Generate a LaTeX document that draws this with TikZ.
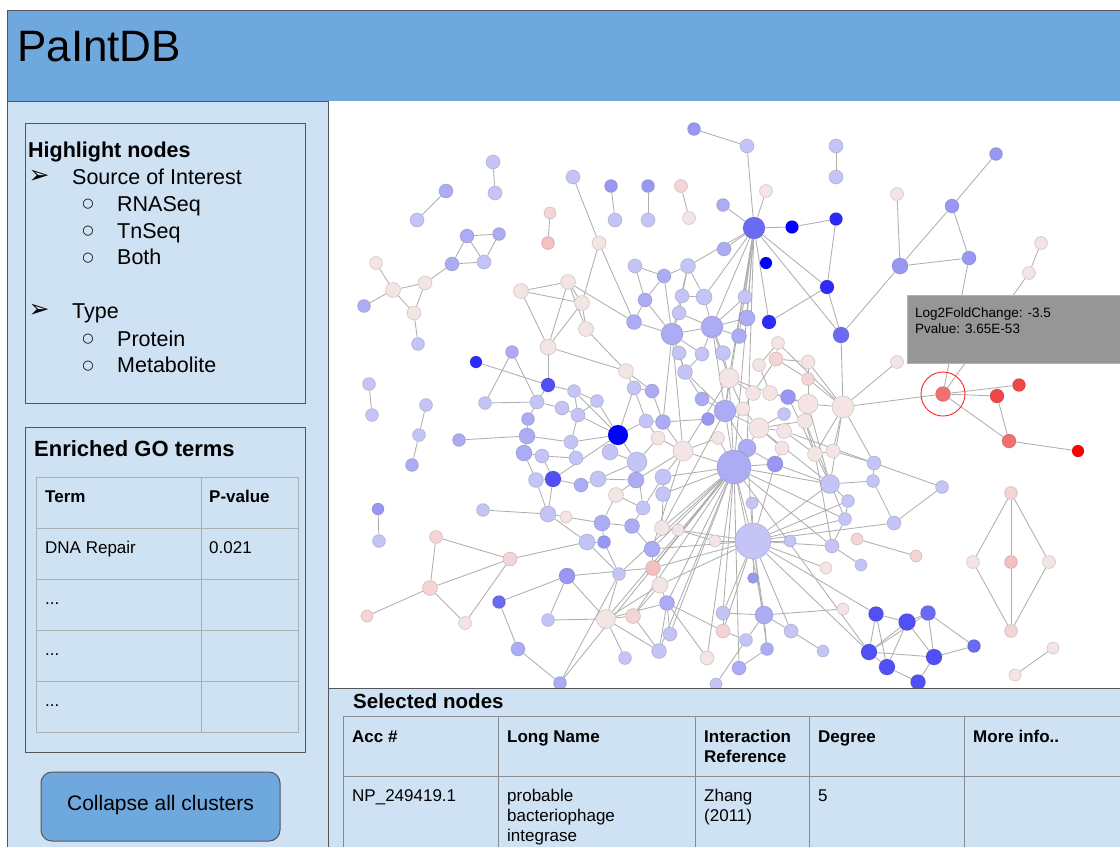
\documentclass[tikz,border=0pt]{standalone}
\usepackage{fontspec}
\setmainfont{Liberation Sans}
\newfontfamily\symfont{DejaVu Sans}
\pgfdeclarelayer{bglayer}
\pgfdeclarelayer{edgelayer}
\pgfdeclarelayer{toplayer}
\pgfsetlayers{bglayer,edgelayer,main,toplayer}
\definecolor{hdr}{RGB}{111,168,220}
\definecolor{panel}{RGB}{207,226,243}
\definecolor{dark}{RGB}{85,85,90}
\definecolor{tipc}{RGB}{150,150,150}
\definecolor{gridc}{RGB}{170,175,180}
\definecolor{edgec}{RGB}{175,175,175}
\definecolor{pw}{RGB}{245,228,228}
\definecolor{pk}{RGB}{244,212,212}
\definecolor{pk2}{RGB}{244,192,192}
\definecolor{lb}{RGB}{196,196,246}
\definecolor{mb}{RGB}{172,172,244}
\definecolor{mb2}{RGB}{152,152,244}
\definecolor{b1}{RGB}{106,106,242}
\definecolor{b2}{RGB}{80,80,246}
\definecolor{b3}{RGB}{44,44,248}
\definecolor{bb}{RGB}{0,0,255}
\definecolor{r1}{RGB}{240,112,112}
\definecolor{r2}{RGB}{240,70,70}
\definecolor{rr}{RGB}{255,0,0}
\begin{document}
\begin{tikzpicture}[x=1pt,y=-1pt,
  nd/.style={circle, inner sep=0pt, draw=black, draw opacity=0.13, line width=0.8pt},
  edge/.style={draw=edgec, line width=0.85pt},
  txt/.style={anchor=base west, inner sep=0pt},
  big/.style={font=\fontsize{21.5}{26}\selectfont},
  tab/.style={font=\fontsize{17}{20}\selectfont},
  tabb/.style={font=\bfseries\fontsize{17}{20}\selectfont},
  bul/.style={anchor=center, inner sep=0pt, font=\symfont\fontsize{13}{15}\selectfont},
  arr/.style={anchor=center, inner sep=0pt, font=\symfont\fontsize{25}{28}\selectfont}]
\useasboundingbox (0,0) rectangle (1120,847);
\begin{pgfonlayer}{bglayer}
\fill[white] (0,0) rectangle (1120,847);
\end{pgfonlayer}
% ---------- network nodes ----------
\foreach \nm/\px/\py/\dm/\cl in {
a1/694/129/13/mb2, a2/493/162/14/lb, a3/495/193/14/lb, a4/446/191/14/mb, a5/417/220/14/lb,
a6/573/177/14/lb, a7/599/243/14/pw, a8/611/186/13/mb2, a9/615/220/14/lb, a10/648/186/13/mb2,
a11/648/220/14/lb, a12/681/186/13/pk, a13/689/218/13/pw, a14/723/205/13/mb, a15/550/213/12/pk,
a16/548/243/13/pk2, a17/467/236/14/mb, a18/499/234/13/mb, a19/452/264/14/mb, a20/484/262/14/lb,
a21/425/283/14/pw, a22/393/290/15/pw, a23/376/263/13/pw, a24/364/306/13/mb, a25/414/313/14/pw,
a26/418/344/13/lb, a27/521/291/15/pw, a28/568/282/15/pw, a29/582/303/15/pw, a30/586/329/15/pw,
a31/548/347/16/pw, a32/626/371/15/pw, a33/634/322/15/mb, a34/476/362/12/b3, a35/548/385/14/b2,
a36/512/352/13/mb, a37/574/391/13/lb, a38/369/384/13/lb, a39/372/415/13/lb,
b1/747/146/14/lb, b2/836/146/14/lb, b3/836/177/14/lb, b4/766/191/13/pw, b6/754/228/22/b1,
b7/792/227/13/bb, b8/836/219/13/b3, b9/766/263/12/bb, b10/724/249/14/mb, b11/827/287/14/b3,
b12/769/322/14/b3, b13/841/335/16/b1, b14/897/194/13/pw, b15/900/266/16/mb2, b16/952/206/14/mb2,
b17/996/154/13/mb2, b18/969/258/14/mb2, b19/1041/243/13/pw, b20/1029/273/13/pw, b21/897/362/13/pw,
b22/635/266/14/lb, b23/664/276/14/mb, b24/688/266/15/lb, b25/645/300/14/mb, b26/682/296/14/lb,
b27/704/297/16/lb, b28/679/313/14/lb, b29/672/334/22/mb, b30/712/327/22/mb, b31/745/297/14/lb,
b32/747/318/16/mb, b33/739/336/15/mb, b34/723/353/15/lb, b35/702/354/14/lb, b36/679/353/14/lb,
b37/685/372/15/lb, b38/729/378/20/pw, b39/778/343/13/pw, b40/776/359/14/pk, b41/759/365/13/pw,
b42/808/362/14/pw, b43/808/379/13/pk, b44/788/397/15/mb2, b45/753/393/15/pw, b46/770/393/15/pw,
b47/808/404/20/pw, b48/843/407/22/pw, b49/805/421/15/pw, b50/784/414/13/lb, b51/743/409/14/pw,
b52/725/411/22/mb, b53/702/399/14/mb, b54/708/419/13/mb2, b55/759/428/20/pw, b56/784/431/15/pw,
b57/833/451/14/pw, b58/815/454/15/pw, b59/782/448/14/pw, b60/747/448/18/mb, b61/734/467/34/mb,
b62/775/464/16/mb2, b63/718/438/13/pw, b64/683/451/20/pw, b65/658/438/14/pw, b66/663/422/15/mb,
b67/646/421/14/lb, b68/634/388/14/lb, b69/652/391/14/mb, b70/618/435/20/bb, b71/610/452/16/lb,
b72/637/462/20/lb, b74/597/401/13/lb, b75/578/415/14/lb, b76/571/442/14/lb, b77/576/458/14/lb,
c1/426/405/13/lb, c2/419/435/13/lb, c3/412/465/13/mb, c4/459/440/13/mb, c5/485/403/13/lb,
c6/378/509/12/mb2, c7/379/541/13/lb, c8/483/510/13/lb, c9/436/537/13/pk, c10/510/559/14/pk,
c11/430/588/15/pk, c12/367/616/12/pk, c13/465/623/13/pw, c14/499/602/13/b1, c15/518/649/14/mb,
c16/560/683/13/mb, c17/567/576/16/mb2, c18/548/620/13/lb, c19/606/619/19/pw, c20/633/616/15/pk,
c21/670/634/14/lb, c22/659/651/15/lb, c23/625/658/13/lb, c24/707/658/14/pw, c25/537/402/14/lb,
c26/562/408/14/lb, c28/528/419/13/mb, c29/527/436/16/mb, c30/524/453/16/mb, c31/542/456/14/lb,
c33/553/479/16/b2, c34/536/480/15/lb, c35/581/485/14/mb, c36/598/479/16/lb, c38/636/480/16/mb,
c39/616/495/15/pw, c40/548/514/16/lb, c41/566/517/12/pw, c42/602/523/16/mb, c43/632/526/15/mb,
c44/587/542/16/lb, c45/604/542/13/mb2, c46/643/508/14/lb, c47/652/549/16/mb, c48/653/568/15/pk2,
c49/660/585/16/pw, c50/667/603/15/mb, c51/723/613/14/lb, c52/723/631/14/pk, c53/619/574/13/lb,
c55/663/477/16/lb, c56/663/494/15/lb, c57/662/528/15/pw, c58/678/530/12/pw, c59/715/541/12/pw,
d1/943/394/15/r1, d2/997/396/14/r2, d3/1019/385/13/r2, d4/1009/441/14/r1, d5/1078/451/12/rr,
d7/874/463/14/lb, d8/873/481/13/lb, d9/942/487/13/lb, d10/830/484/19/lb, d11/848/501/13/lb,
d12/845/519/13/lb, d13/894/523/14/lb, d14/857/539/12/pk, d15/916/556/12/pk, d16/832/546/14/lb,
d17/861/565/12/lb, d18/826/568/12/pw, d19/790/541/12/lb, d20/752/503/12/lb, d21/753/541/36/lb,
d22/753/578/11/mb2,
e1/1011/493/13/pk, e2/973/562/13/pw, e3/1011/562/13/pk2, e4/1049/562/13/pw, e5/1011/631/13/pk,
e6/1053/648/12/pw, e7/1015/675/12/pw,
f1/876/614/15/b2, f2/907/622/17/b2, f3/928/613/15/b1, f4/869/652/16/b2, f5/887/667/16/b2,
f6/934/657/16/b2, f7/974/646/13/b1, f8/918/682/15/b2,
g1/843/609/12/pw, g2/764/615/18/mb, g4/746/640/13/lb, g5/791/631/14/lb, g6/767/649/13/mb,
g7/823/651/12/lb, g8/739/668/14/mb, g9/716/684/12/lb}
  \node[nd, minimum size=\dm pt, fill=\cl] (\nm) at (\px,\py) {};
% ---------- network edges ----------
\begin{pgfonlayer}{edgelayer}
\foreach \p/\q in {
a2/a3, a4/a5, a6/a7, a8/a9, a10/a11, a12/a13, a15/a16, a17/a18, a17/a19, a17/a20, a18/a20, a19/a20,
a19/a21, a21/a22, a21/a25, a22/a23, a22/a24, a22/a25, a25/a26, a38/a39,
a7/a29, a7/a33, a27/a28, a27/a29, a27/a31, a28/a29, a28/a30, a28/a31, a28/a33, a29/a30, a29/a31,
a30/a32, a31/a32, a31/a35, a34/a35, a32/b68, a32/b69, a33/b29, a33/b25, a36/c5, a36/c25,
a1/b1, b1/b6, b4/b6, a14/b6, b10/b6, b6/b7, b7/b8, b8/b11, b6/b11, b11/b12, b6/b13, b11/b13,
b13/b15, b15/b14, b15/b16, b16/b17, b16/b18, b15/b18, b13/b48, b21/b48, b19/b20, b20/d1, b18/d1, b2/b3,
b6/b27, b6/b30, b6/b31, b6/b32, b6/b33, b6/b38, b6/b61, b6/b24, b6/b52, b6/b60, b12/b6,
b22/b23, b22/b25, b23/b24, b23/b25, b23/b29, b24/b26, b24/b27, b24/b29, b25/b29, b26/b27, b26/b28,
b27/b30, b28/b29, b28/b30, b29/b30, b29/b36, b29/b35, b29/b37, b29/b64, b29/b66, b30/b31, b30/b32,
b30/b33, b30/b34, b30/b35, b30/b52, b30/b38, b34/b38, b35/b37, b36/b37, b37/b52, b37/b53, b38/b52,
b38/b45, b38/b46, b38/b51, b38/b61, b38/b64, b39/b40, b39/b41, b40/b42, b40/b43, b40/b45, b41/b46,
b42/b47, b43/b47, b44/b46, b44/b47, b45/b51, b46/b47, b47/b48, b47/b49, b48/b57, b48/b43, b48/b39,
b48/b42, b48/b58, b48/d10, b48/d7, b49/b55, b50/b55, b51/b55, b52/b53, b52/b54, b52/b55, b52/b60,
b52/b61, b54/b66, b55/b56, b55/b59, b55/b60, b56/b58, b57/b58, b58/b49, b59/b62, b60/b61, b60/b62,
b61/b62, b61/b63, b61/b64, b63/b64, b64/b65, b64/b66, b65/b67, b66/b67, b67/b68, b68/b69, b69/b66,
b70/b68, b70/b71, b70/b72, b70/a37, b70/b74, b70/b76, b70/b67, b70/c33, b70/b75, b71/b72, b72/b65,
b72/c36, b72/c38, a37/b74, a37/b75, b74/b75, b75/b76, b76/b77, b77/c31, a35/a37, a35/c25, c25/c26,
c25/c28, c26/b75, c28/c29, c29/c30, c29/b76, c30/c31, c30/c34, c31/c33, c33/c34, c33/c35, c33/c40,
c34/c40, c35/c36, c36/c38, c38/c39, c39/c46, c39/c42, c40/c41, c40/c44, c41/c42, c42/c43, c42/c45,
c43/c46, c43/c47, c44/c45, c45/c53, c46/c55, c47/c48, c48/c49, c49/c50, c50/c19, c50/c52, c55/c56,
c56/c57, c57/c58, c58/c59, c57/b61, c55/b64, c59/d21, c55/b61, c56/b61, c47/b61, c38/b64, c46/b72,
c1/c2, c2/c3, c4/c29, c5/c25, c6/c7, c8/c40, c9/c10, c9/c11, c10/c11, c10/c13, c11/c12, c11/c13,
c10/c44, c14/c17, c14/c15, c15/c16, c17/c18, c17/c19, c17/c48, c18/c19, c19/c20, c19/c22, c19/c23,
c19/b61, c19/c49, c20/c49, c20/c22, c21/c50, c22/c50, c53/c19, c53/c44, c16/c53, c24/c50,
b61/d21, b61/c20, b61/c48, b61/c50, b61/g8, b61/c16, b61/c22, b61/g2, b61/f4, b61/d10, b61/d12,
b61/c53, b61/c21, b61/d16, b61/c24,
d21/c48, d21/c47, d21/d13, d21/f1, d21/f4, d21/g2, d21/g5, d21/c58, d21/d19, d21/d20, d21/d22,
d21/d16, d21/d10, d21/b62, d21/c52, d21/g6, d21/b60, d21/c49, d21/d11, d21/d12, d21/d18, d21/c51,
d7/d8, d7/d9, d8/d13, d9/d13, b56/d7, d10/d8, d10/d11, d11/d12, d12/d16, d14/d15, d16/d17,
e1/e2, e1/e3, e1/e4, e2/e5, e3/e5, e4/e5, e6/e7,
f1/f2, f1/f4, f1/f5, f2/f3, f2/f4, f2/f5, f2/f6, f3/f6, f3/f7, f4/f5, f4/f6, f5/f8, f6/f8, f6/f7, f3/f4,
g2/g1, g2/c51, g2/g4, g2/g5, g2/g6, g5/g7, g6/g8, c51/c52, c51/b61, g4/g9, c52/g4,
d1/d2, d1/d3, d1/d4, d2/d4, d4/d5, b48/d1,
b60/c48, b52/c57, b64/c47, b55/d10, b47/d10, b44/d10, b49/d12, b58/d16, b57/d7, b62/d10}
  \draw[edge] (\p) -- (\q);
\end{pgfonlayer}
\draw[red!85!white, line width=0.9pt] (d1) circle (22);
% ---------- panels ----------
\begin{pgfonlayer}{toplayer}
% header
\fill[hdr] (7,10) rectangle (1120,101);
\draw[dark, line width=1pt] (7,101) -- (7,10) -- (1120,10);
\node[txt, font=\fontsize{44}{50}\selectfont] (title) at (17,61) {PaIntDB};
% left panel
\fill[panel] (7,101) rectangle (328,847);
\draw[dark, line width=1pt] (7,847) -- (7,101) -- (328,101) -- (328,847);
% highlight box
\draw[dark, line width=0.9pt] (25,123) rectangle (305,403);
\node[txt, font=\bfseries\fontsize{21.5}{26}\selectfont] (hl) at (28,157) {Highlight nodes};
\node[arr] (ar1) at (39,177) {➢};
\node[txt, big] (soi) at (72,184) {Source of Interest};
\node[bul] (bu1) at (88,204) {○};
\node[txt, big] (rna) at (117,211) {RNASeq};
\node[bul] (bu2) at (88,231) {○};
\node[txt, big] (tn) at (117,238) {TnSeq};
\node[bul] (bu3) at (88,258) {○};
\node[txt, big] (both) at (117,264) {Both};
\node[arr] (ar2) at (39,311) {➢};
\node[txt, big] (typ) at (72,318) {Type};
\node[bul] (bu4) at (88,339) {○};
\node[txt, big] (prot) at (117,346) {Protein};
\node[bul] (bu5) at (88,366) {○};
\node[txt, big] (meta) at (117,372) {Metabolite};
% GO box
\draw[dark, line width=0.9pt] (25,427) rectangle (305,752);
\node[txt, font=\bfseries\fontsize{22}{26}\selectfont] (go) at (34,456) {Enriched GO terms};
\draw[gridc, line width=1pt] (36,477) rectangle (298,732);
\draw[gridc, line width=1pt] (201,477) -- (201,732);
\foreach \yy in {528,579,630,681} \draw[gridc, line width=1pt] (36,\yy) -- (298,\yy);
\node[txt, tabb] (th1) at (45,502) {Term};
\node[txt, tabb] (th2) at (209,502) {P-value};
\node[txt, tab] (tr1) at (45,553) {DNA Repair};
\node[txt, tab] (tr1b) at (209,553) {0.021};
\node[txt, tab] (tr2) at (45,604) {...};
\node[txt, tab] (tr3) at (45,655) {...};
\node[txt, tab] (tr4) at (45,706) {...};
% button
\draw[dark, fill=hdr, line width=1pt, rounded corners=11pt] (41,772) rectangle (280,841);
\node[anchor=base, inner sep=0pt, font=\fontsize{21}{25}\selectfont] (btn) at (160.5,810) {Collapse all clusters};
% selected nodes panel
\fill[panel] (328,688) rectangle (1120,847);
\draw[dark, line width=1pt] (328,847) -- (328,688) -- (1120,688);
\node[txt, font=\bfseries\fontsize{20.5}{24}\selectfont] (sel) at (353,708) {Selected nodes};
\draw[gridc!80!black, line width=1pt] (343,847) -- (343,716) -- (1120,716);
\draw[gridc!80!black, line width=1pt] (343,776) -- (1120,776);
\foreach \xx in {498,695,809,964} \draw[gridc!80!black, line width=1pt] (\xx,716) -- (\xx,847);
\node[txt, tabb] (h1) at (352,742) {Acc \#};
\node[txt, tabb] (h2) at (507,742) {Long Name};
\node[txt, tabb] (h3) at (704,742) {Interaction};
\node[txt, tabb] (h3b) at (704,762) {Reference};
\node[txt, tabb] (h4) at (818,742) {Degree};
\node[txt, tabb] (h5) at (973,742) {More info..};
\node[txt, tab] (v1) at (352,801) {NP\_249419.1};
\node[txt, tab] (v2) at (507,801) {probable};
\node[txt, tab] (v2b) at (507,821) {bacteriophage};
\node[txt, tab] (v2c) at (507,841) {integrase};
\node[txt, tab] (v3) at (704,801) {Zhang};
\node[txt, tab] (v3b) at (704,821) {(2011)};
\node[txt, tab] (v4) at (818,801) {5};
% tooltip
\fill[tipc] (907,295) rectangle (1120,363);
\draw[gray!60, line width=0.8pt] (1120,295) -- (907,295) -- (907,363) -- (1120,363);
\node[txt, font=\fontsize{13.5}{16}\selectfont] (tt1) at (915,317) {Log2FoldChange: -3.5};
\node[txt, font=\fontsize{13.5}{16}\selectfont] (tt2) at (915,333) {Pvalue: 3.65E-53};
\end{pgfonlayer}
\end{tikzpicture}
\end{document}
